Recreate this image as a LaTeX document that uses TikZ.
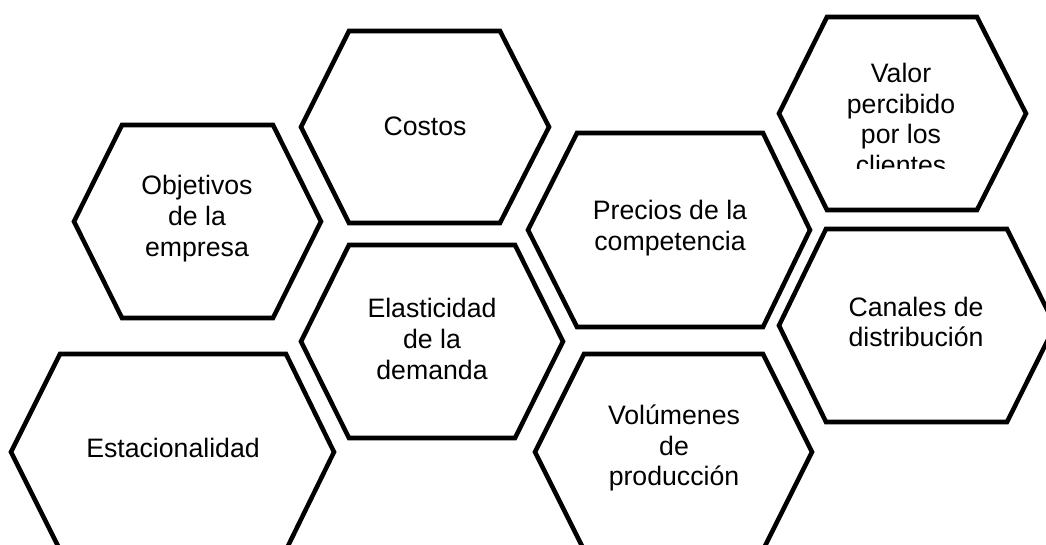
\documentclass[tikz,border=0pt]{standalone}
\usepackage{fontspec}
\setmainfont{Liberation Sans}
\newcommand\hexa[6]{\draw[hexline] (#1,{(#5+#6)/2}) -- (#2,#5) -- (#3,#5) -- (#4,{(#5+#6)/2}) -- (#3,#6) -- (#2,#6) -- cycle;}
\begin{document}
\begin{tikzpicture}[x=0.75pt,y=-0.75pt,
  hexline/.style={draw=black,line width=3.4pt,line join=miter},
  lbl/.style={align=center,inner sep=0pt,font=\fontsize{20}{23.2}\selectfont}]
\useasboundingbox (0,0) rectangle (1046,545);
\begin{scope}
\clip (0,0) rectangle (1046,545);
% Costos
\hexa{301}{349}{500}{549}{31}{223}
% Objetivos
\hexa{74}{122}{273}{321}{125}{318}
% Elasticidad
\hexa{301}{349}{515}{563}{245}{438}
% Estacionalidad
\hexa{11}{60}{286}{334}{354}{550}
% Precios
\hexa{528}{577}{763}{810}{133}{327}
% Valor
\hexa{779}{827}{977}{1026}{17}{210}
% Canales
\hexa{779}{826}{1007}{1055}{229}{422}
% Volumenes
\hexa{535}{584}{763}{812}{354}{550}
\end{scope}
\node[lbl] (costos) at (425,126) {Costos};
\node[lbl] (obj) at (197,219) {Objetivos\\de la\\empresa};
\node[lbl] (elas) at (432,339) {Elasticidad\\de la\\demanda};
\node[lbl] (estac) at (173,448) {Estacionalidad};
\node[lbl] (prec) at (670,228) {Precios de la\\competencia};
\node[lbl] (canal) at (916,322) {Canales de\\distribución};
\node[lbl] (vol) at (674,448) {Volúmenes\\de\\producción};
\begin{scope}
\clip (700,0) rectangle (1000,169);
\node[lbl] (valor) at (901,119) {Valor\\percibido\\por los\\clientes};
\end{scope}
\end{tikzpicture}
\end{document}
